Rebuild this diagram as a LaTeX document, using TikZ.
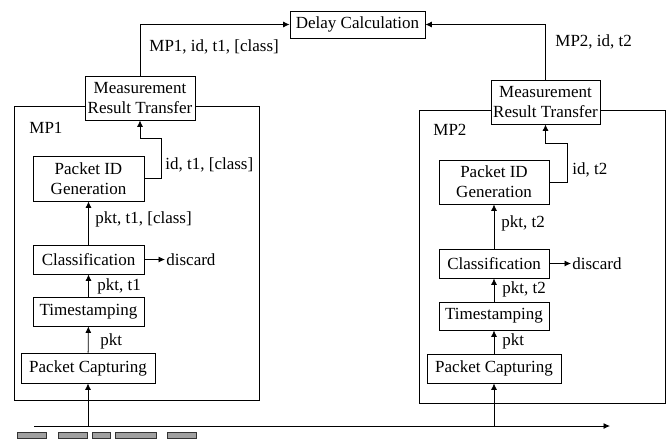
\documentclass[tikz,border=0pt]{standalone}
\usepackage{fontspec}
\setmainfont{Liberation Serif}
\usepackage{tikz}
\usetikzlibrary{arrows.meta}
\definecolor{P}{RGB}{160, 160, 160}

\tikzset{
	box/.style={draw, fill=white, align=center, inner sep=1pt, font=\fontsize{17}{20}\selectfont},
	lbl/.style={anchor=west, inner sep=1pt, font=\fontsize{17}{20}\selectfont},
	flow/.style={-{Latex[length=6.5pt,width=6pt]}},
	pkt/.style={draw=black!80, fill=P}
}

\begin{document}
\begin{tikzpicture}[x=1pt, y=-1pt, line width=0.8pt]
	\useasboundingbox (0,0) rectangle (671,440);
	% Calculo del retardo
	\node[box, minimum width=135pt, minimum height=27pt] (delay) at (357.5,24.5) {Delay Calculation};

	% Punto de medida MP1
	\draw (14,106) rectangle (259,400);
	\node[lbl] (mp1) at (28,128) {MP1};
	\node[box, minimum width=110pt, minimum height=44pt] (mrt1) at (140,98) {Measurement\\Result Transfer};
	\node[box, minimum width=111pt, minimum height=45pt] (pid1) at (88.5,178.5) {Packet ID\\Generation};
	\node[box, minimum width=111pt, minimum height=29pt] (cls1) at (88.5,259.5) {Classification};
	\node[box, minimum width=111pt, minimum height=29pt] (ts1) at (88.5,311.5) {Timestamping};
	\node[box, minimum width=134pt, minimum height=30pt] (pc1) at (88,368) {Packet Capturing};

	% Punto de medida MP2
	\draw (419,110) rectangle (665,403);
	\node[lbl] (mp2) at (432,130) {MP2};
	\node[box, minimum width=109pt, minimum height=44pt] (mrt2) at (545.5,102) {Measurement\\Result Transfer};
	\node[box, minimum width=110pt, minimum height=44pt] (pid2) at (494,182) {Packet ID\\Generation};
	\node[box, minimum width=110pt, minimum height=29pt] (cls2) at (494,263.5) {Classification};
	\node[box, minimum width=110pt, minimum height=28pt] (ts2) at (494,316) {Timestamping};
	\node[box, minimum width=134pt, minimum height=29pt] (pc2) at (494,368.5) {Packet Capturing};

	% Enlace con los paquetes
	\coordinate (wa) at (34,426);
	\coordinate (wb) at (610,426);
	\draw[flow] (wa) -- (wb);
	\coordinate (tap1) at (88,426);
	\coordinate (tap2) at (494,426);
	\filldraw[pkt] (17,432) rectangle (46,438);
	\filldraw[pkt] (58,432) rectangle (87,438);
	\filldraw[pkt] (92,432) rectangle (110,438);
	\filldraw[pkt] (115,432) rectangle (156,438);
	\filldraw[pkt] (167,432) rectangle (196,438);

	% Flujo en MP1
	\draw[flow] (tap1) -- (pc1.south);
	\draw[flow] (pc1) -- (ts1);
	\node[lbl] (l1a) at (99,341) {pkt};
	\draw[flow] (ts1) -- (cls1);
	\node[lbl] (l1b) at (96,286) {pkt, t1};
	\coordinate (d1) at (165,259.5);
	\draw[flow] (cls1.east) -- (d1);
	\node[lbl] (x1) at (d1) {discard};
	\draw[flow] (cls1) -- (pid1);
	\node[lbl] (l1c) at (94,219) {pkt, t1, [class]};
	\coordinate (b1) at (161,138);
	\draw[flow] (pid1.east) -| (b1) -| (mrt1.south);
	\node[lbl] (l1d) at (164,165) {id, t1, [class]};
	\draw[flow] (mrt1.north) |- (delay.west);
	\node[lbl] (l1e) at (148,47) {MP1, id, t1, [class]};

	% Flujo en MP2
	\draw[flow] (tap2) -- (pc2.south);
	\draw[flow] (pc2) -- (ts2);
	\node[lbl] (l2a) at (501,341) {pkt};
	\draw[flow] (ts2) -- (cls2);
	\node[lbl] (l2b) at (501,289) {pkt, t2};
	\coordinate (d2) at (571,263.5);
	\draw[flow] (cls2.east) -- (d2);
	\node[lbl] (x2) at (d2) {discard};
	\draw[flow] (cls2) -- (pid2);
	\node[lbl] (l2c) at (500,223) {pkt, t2};
	\coordinate (b2) at (567,143);
	\draw[flow] (pid2.east) -| (b2) -| (mrt2.south);
	\node[lbl] (l2d) at (571,170) {id, t2};
	\draw[flow] (mrt2.north) |- (delay.east);
	\node[lbl] (l2e) at (554,42) {MP2, id, t2};
\end{tikzpicture}
\end{document}
